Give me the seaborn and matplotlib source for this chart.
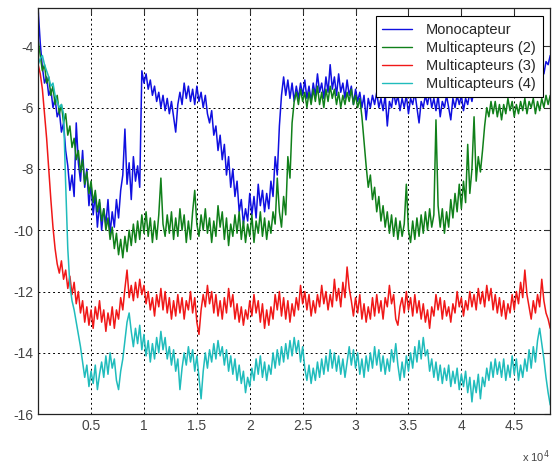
import numpy as np
import pandas as pd
import seaborn as sns
import matplotlib.pyplot as plt
from matplotlib.ticker import FuncFormatter, MultipleLocator

# one sample every 200 iterations
step = 200

mono = [-2.8, -3.9, -4.7, -5.2, -5.0, -5.6, -5.4, -6.0, -5.7, -6.3,
        -6.1, -6.8, -6.5, -7.4, -7.9, -8.7, -8.2, -8.9, -6.5, -7.8,
        -8.4, -7.4, -8.6, -8.0, -9.2, -8.5, -9.5, -8.8, -9.9, -9.1,
        -10.0, -9.3, -9.8, -9.0, -10.1, -9.4, -9.9, -9.0, -9.6, -8.7,
        -8.2, -6.7, -8.5, -7.8, -9.0, -7.6, -8.4, -7.9, -8.6, -4.8,
        -5.2, -4.9, -5.4, -5.1, -5.6, -5.3, -5.8, -5.5, -6.0, -5.6,
        -6.1, -5.7, -6.2, -5.8, -6.3, -6.8, -5.9, -5.5, -5.9, -5.2,
        -5.7, -5.3, -5.8, -5.4, -5.9, -5.3, -5.8, -5.5, -6.0, -5.6,
        -6.2, -6.5, -6.1, -6.9, -6.6, -7.4, -6.9, -7.7, -7.2, -8.2,
        -7.6, -8.6, -8.0, -8.9, -8.4, -9.4, -9.0, -9.8, -9.3, -9.7,
        -8.8, -9.5, -8.9, -9.6, -8.5, -9.2, -8.7, -9.4, -8.8, -9.3,
        -8.4, -8.9, -7.6, -8.2, -6.6, -5.6, -5.0, -5.6, -5.1, -5.7,
        -5.2, -5.8, -5.3, -5.7, -5.2, -5.6, -5.1, -5.7, -5.3, -5.8,
        -5.2, -5.6, -4.9, -5.5, -5.2, -5.7, -5.0, -5.5, -4.6, -5.4,
        -5.0, -5.6, -4.9, -5.5, -5.2, -5.7, -5.1, -5.6, -5.3, -5.9,
        -5.4, -5.8, -5.5, -6.0, -5.6, -6.4, -5.7, -6.0, -5.6, -5.9,
        -5.5, -6.0, -5.7, -6.1, -5.6, -6.6, -5.8, -6.0, -5.5, -5.9,
        -5.6, -6.1, -5.7, -6.0, -5.6, -6.2, -5.7, -5.9, -5.5, -6.0,
        -6.5, -5.8, -6.0, -5.6, -5.9, -5.5, -6.0, -5.7, -6.1, -5.6,
        -6.3, -5.8, -6.0, -5.6, -6.0, -6.4, -5.7, -6.0, -5.6, -5.9,
        -5.6, -6.1, -5.7, -5.9, -5.5, -5.8, -5.4, -5.6, -5.2, -5.4,
        -5.1, -5.3, -5.0, -5.2, -4.9, -5.2, -4.8, -5.1, -4.8, -5.0,
        -4.7, -5.0, -4.7, -4.9, -4.6, -4.9, -4.7, -5.0, -4.8, -5.1,
        -4.9, -5.1, -4.9, -5.2, -5.0, -5.3, -5.1, -4.9, -4.7, -4.9,
        -4.5, -4.6, -4.3]

multi2 = [-3.8, -4.3, -4.8, -4.6, -5.2, -5.0, -5.6, -5.3, -5.9, -5.6,
          -6.2, -5.9, -6.5, -6.2, -6.9, -6.6, -7.3, -7.0, -7.7, -7.4,
          -8.1, -7.7, -8.5, -8.1, -8.8, -8.4, -9.1, -8.7, -9.4, -9.0,
          -9.7, -9.3, -10.0, -9.6, -10.3, -9.9, -10.6, -10.1, -10.8, -10.3,
          -10.9, -10.2, -10.7, -10.0, -10.5, -9.8, -10.4, -9.7, -10.3, -9.5,
          -10.1, -9.4, -10.2, -9.6, -10.4, -9.7, -10.3, -9.5, -8.3, -9.8,
          -10.2, -9.5, -10.1, -9.4, -10.3, -9.6, -10.2, -9.3, -10.0, -9.5,
          -10.4, -9.7, -10.3, -9.4, -8.7, -9.8, -10.2, -9.5, -10.0, -9.3,
          -10.1, -9.6, -10.4, -9.7, -10.2, -9.2, -9.9, -9.4, -10.3, -9.6,
          -10.5, -9.8, -10.2, -9.5, -10.1, -9.4, -10.3, -9.7, -10.4, -9.8,
          -10.2, -9.5, -10.4, -9.7, -10.1, -9.4, -10.2, -9.6, -10.3, -9.7,
          -10.1, -9.4, -9.8, -8.3, -9.4, -9.9, -8.9, -9.5, -7.6, -8.3,
          -6.5, -5.8, -5.5, -5.9, -5.4, -5.8, -5.5, -6.0, -5.5, -5.9,
          -5.4, -5.8, -5.3, -5.9, -5.5, -6.0, -5.4, -5.8, -5.3, -5.7,
          -5.4, -5.9, -5.5, -6.0, -5.6, -5.9, -5.5, -5.8, -5.4, -5.9,
          -5.6, -6.0, -5.7, -6.3, -7.1, -7.9, -8.6, -8.2, -9.0, -8.6,
          -9.4, -8.9, -9.7, -9.2, -9.9, -9.4, -10.1, -9.5, -10.2, -9.6,
          -10.3, -9.7, -10.2, -9.8, -8.5, -10.0, -10.4, -9.7, -10.3, -9.6,
          -10.2, -9.5, -10.1, -9.4, -10.0, -9.3, -9.9, -9.5, -6.4, -9.2,
          -9.9, -9.3, -10.1, -9.4, -9.9, -9.0, -9.6, -8.8, -9.4, -8.5,
          -9.3, -8.4, -9.1, -7.2, -8.8, -8.0, -6.3, -8.4, -7.6, -8.1,
          -7.4, -6.6, -6.0, -6.3, -5.8, -6.2, -5.8, -6.3, -5.9, -6.4,
          -5.9, -6.2, -5.7, -6.1, -5.8, -6.3, -5.9, -6.2, -5.8, -6.1,
          -5.7, -6.2, -5.8, -6.0, -5.7, -6.2, -5.8, -6.1, -5.7, -6.0,
          -5.6, -5.9, -5.6]

multi3 = [-4.6, -4.9, -5.4, -6.2, -7.0, -8.0, -9.0, -9.9, -10.6, -11.1,
          -11.4, -11.0, -11.6, -11.3, -11.9, -11.5, -12.1, -11.7, -12.4, -12.0,
          -12.7, -12.3, -13.0, -12.5, -13.1, -12.6, -13.2, -12.5, -12.9, -12.3,
          -13.0, -12.6, -13.3, -12.7, -13.1, -12.5, -13.2, -12.6, -12.9, -12.2,
          -12.6, -11.9, -11.3, -12.2, -11.8, -12.3, -11.7, -12.2, -11.6, -12.1,
          -11.8, -12.4, -12.0, -12.6, -12.2, -12.8, -12.1, -12.5, -11.9, -12.6,
          -12.0, -12.7, -12.2, -12.9, -12.3, -12.8, -12.1, -12.7, -12.2, -12.9,
          -12.3, -12.6, -12.0, -12.7, -12.2, -13.0, -13.4, -12.6, -12.1, -12.5,
          -11.8, -12.4, -12.0, -12.7, -12.1, -12.8, -12.3, -12.9, -12.2, -12.7,
          -11.9, -12.5, -12.1, -12.9, -12.4, -13.0, -12.5, -13.1, -12.6, -12.9,
          -12.3, -12.8, -12.1, -12.7, -12.3, -13.0, -12.4, -13.2, -12.6, -13.1,
          -12.5, -12.9, -12.1, -12.6, -12.0, -12.8, -12.2, -12.9, -12.3, -13.0,
          -12.4, -12.8, -12.2, -12.6, -11.8, -12.4, -12.0, -12.6, -12.1, -12.8,
          -12.3, -12.7, -12.1, -12.5, -11.8, -12.4, -12.0, -12.6, -12.1, -12.5,
          -11.6, -12.3, -11.9, -12.5, -11.7, -12.2, -11.2, -11.9, -12.3, -12.8,
          -12.2, -12.7, -12.1, -12.9, -12.4, -13.0, -12.5, -12.9, -12.2, -12.8,
          -12.1, -12.7, -12.3, -12.9, -12.2, -12.5, -11.8, -12.4, -12.1, -12.9,
          -13.1, -12.5, -12.2, -12.7, -12.0, -12.6, -12.2, -12.8, -12.1, -12.7,
          -12.3, -12.9, -12.4, -13.0, -12.6, -13.2, -12.5, -12.8, -12.1, -12.6,
          -12.2, -12.9, -12.3, -12.8, -12.5, -13.0, -12.4, -12.7, -12.0, -12.5,
          -12.2, -12.8, -12.3, -12.6, -12.0, -12.5, -12.1, -12.6, -11.9, -12.4,
          -12.0, -12.5, -11.8, -12.3, -11.9, -12.6, -12.1, -12.7, -12.2, -12.8,
          -12.3, -12.9, -12.4, -12.7, -12.1, -12.6, -12.0, -12.4, -11.7, -12.2,
          -11.3, -12.1, -12.5, -12.9, -12.3, -12.7, -12.1, -12.5, -11.6, -12.3,
          -12.7, -12.9, -13.2]

multi4 = [-4.6, -4.4, -4.3, -4.6, -4.8, -5.0, -5.3, -5.2, -5.6, -5.8,
          -6.0, -5.9, -6.2, -8.5, -10.6, -11.8, -12.3, -12.6, -13.0, -13.4,
          -13.8, -14.3, -14.8, -14.4, -15.1, -14.6, -15.0, -14.4, -15.2, -14.7,
          -14.3, -14.8, -14.1, -14.7, -14.0, -14.5, -14.2, -14.9, -15.2, -14.6,
          -14.2, -13.6, -13.0, -12.7, -13.3, -13.8, -13.2, -13.7, -13.1, -13.9,
          -13.4, -14.1, -13.6, -14.3, -13.7, -14.2, -13.5, -14.0, -13.3, -13.9,
          -13.5, -14.2, -13.8, -14.4, -13.9, -14.6, -14.2, -15.2, -14.5, -14.0,
          -14.4, -13.8, -14.3, -13.9, -14.6, -14.1, -14.8, -15.5, -14.6, -14.0,
          -14.5, -13.9, -14.3, -13.7, -14.2, -13.6, -14.1, -13.8, -14.4, -13.9,
          -14.6, -14.1, -14.7, -14.2, -14.9, -14.4, -15.0, -14.6, -15.3, -14.8,
          -15.1, -14.5, -14.9, -14.2, -14.7, -14.1, -14.8, -14.3, -14.9, -14.4,
          -14.7, -14.0, -14.5, -13.9, -14.4, -13.8, -14.3, -13.7, -14.2, -13.6,
          -14.1, -13.5, -14.0, -13.6, -14.3, -13.8, -14.5, -14.9, -14.4, -15.0,
          -14.5, -14.9, -14.3, -14.8, -14.2, -14.7, -14.1, -14.6, -13.9, -14.5,
          -14.0, -14.6, -14.1, -14.7, -14.2, -14.8, -14.3, -13.8, -14.4, -13.9,
          -14.5, -14.0, -14.7, -14.2, -14.8, -14.1, -14.6, -14.0, -14.5, -13.8,
          -14.4, -13.9, -14.6, -14.1, -14.7, -14.2, -14.6, -13.9, -14.3, -13.7,
          -14.4, -14.9, -14.3, -14.8, -14.1, -14.6, -14.0, -14.5, -13.8, -14.3,
          -13.6, -14.2, -13.5, -14.1, -13.9, -14.6, -14.2, -14.8, -14.3, -14.9,
          -14.4, -15.0, -14.5, -14.9, -14.4, -15.1, -14.6, -15.0, -14.5, -15.2,
          -14.7, -15.1, -14.6, -15.3, -14.8, -15.6, -14.9, -15.3, -14.7, -15.5,
          -14.8, -15.1, -14.5, -14.9, -14.3, -14.8, -14.2, -14.7, -14.3, -14.8,
          -14.2, -14.9, -14.4, -14.8, -14.1, -14.7, -14.2, -14.9, -14.4, -14.8,
          -14.2, -14.6, -13.9, -14.5, -13.8, -14.3, -13.6, -13.2, -13.7, -14.2,
          -14.8, -15.3, -15.7]

labels = ["Monocapteur", "Multicapteurs (2)", "Multicapteurs (3)", "Multicapteurs (4)"]
colors = ["#1010e0", "#10801a", "#f01818", "#20bcbc"]

frames = []
for lab, vals in zip(labels, [mono, multi2, multi3, multi4]):
    frames.append(pd.DataFrame({
        "iteration": np.arange(len(vals)) * step,
        "value": vals,
        "serie": lab,
    }))
df = pd.concat(frames, ignore_index=True)

sns.set_style("white")
plt.rcParams["font.family"] = ["Liberation Sans", "DejaVu Sans"]

fig = plt.figure(figsize=(5.53, 4.69), dpi=100)
ax = fig.add_axes([0.069, 0.117, 0.926, 0.866])

sns.lineplot(data=df, x="iteration", y="value", hue="serie", hue_order=labels,
             palette=colors, estimator=None, linewidth=1.1, ax=ax)

ax.set_xlim(0, 48400)
ax.set_ylim(-16, -2.75)
ax.xaxis.set_major_locator(MultipleLocator(5000))
ax.yaxis.set_major_locator(MultipleLocator(2))
ax.xaxis.set_major_formatter(FuncFormatter(lambda v, p: "" if v == 0 else f"{v / 1e4:g}"))
ax.yaxis.set_major_formatter(FuncFormatter(lambda v, p: f"{v:g}"))
ax.set_xlabel("")
ax.set_ylabel("")
ax.grid(True, color="black", linestyle=(0, (2, 3)), linewidth=0.7)
ax.tick_params(direction="in", length=4, top=True, right=True, labelsize=10,
               colors="#333333", labelcolor="#444444")
for s in ax.spines.values():
    s.set_color("#222222")
    s.set_linewidth(0.9)

ax.text(0.998, -0.085, "x 10$^4$", transform=ax.transAxes, ha="right", va="top",
        fontsize=8, color="#444444")

leg = ax.legend(loc="upper right", bbox_to_anchor=(0.985, 0.98), borderaxespad=0,
                fontsize=10.5, frameon=True, fancybox=False, edgecolor="black",
                framealpha=1.0, handlelength=2.0, handletextpad=1.0,
                labelspacing=0.28, borderpad=0.45)
leg.get_frame().set_linewidth(0.8)
for line in leg.get_lines():
    line.set_linewidth(1.0)

fig.savefig("out.png", dpi=100)
